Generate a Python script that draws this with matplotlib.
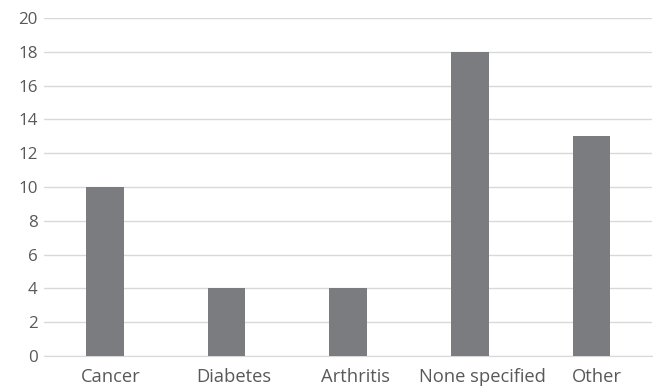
import matplotlib
matplotlib.use('Agg')
import matplotlib.pyplot as plt
from matplotlib.transforms import ScaledTranslation

categories = ['Cancer', 'Diabetes', 'Arthritis', 'None specified', 'Other']
values = [10, 4, 4, 18, 13]
yticks = [0, 2, 4, 6, 8, 10, 12, 14, 16, 18, 20]

plt.rcParams['font.family'] = ['Open Sans', 'DejaVu Sans']

fig = plt.figure(figsize=(6.54, 3.88), dpi=100)
ax = fig.add_axes([0.0673, 0.0825, 0.93, 0.871])

ax.bar(range(len(categories)), values, width=0.31, color='#7b7c80', zorder=3)
ax.set_xlim(-0.5, len(categories) - 0.5)
ax.set_ylim(0, 20)
ax.set_yticks(yticks)
ax.set_xticks(range(len(categories)))
ax.set_xticklabels(categories)
ax.grid(axis='y', color='#d9d9d9', linewidth=1, zorder=0)
for s in ['top', 'right', 'left']:
    ax.spines[s].set_visible(False)
ax.spines['bottom'].set_color('#d9d9d9')
ax.tick_params(axis='both', length=0, colors='#595959')
ax.tick_params(axis='y', pad=4.5, labelsize=12.2)
ax.tick_params(axis='x', pad=8.5, labelsize=13.2)

# labels in the original sit a bit right of the bar centre (wider font than laid out for)
fig.canvas.draw()
for lab in ax.get_xticklabels():
    w = lab.get_window_extent().width
    dx = 0.5 * w * (1 - 1 / 1.26)
    lab.set_transform(lab.get_transform() + ScaledTranslation(dx / fig.dpi, 0, fig.dpi_scale_trans))

fig.savefig('out.png', dpi=100)
